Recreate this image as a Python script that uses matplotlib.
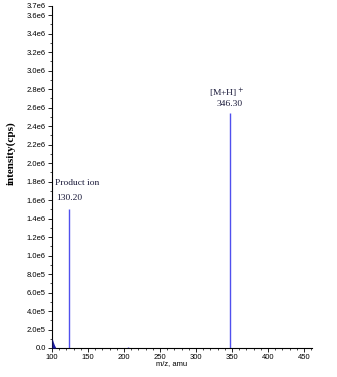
import matplotlib
matplotlib.use("Agg")
import matplotlib.pyplot as plt
from matplotlib.ticker import MultipleLocator, FuncFormatter

# Data
peak_mz = [124, 205, 347]
peak_int = [1.50e6, 0.012e6, 2.54e6]
blob_mz = [100, 100.8, 102, 103.5, 105.5]
blob_int = [0.10e6, 0.09e6, 0.06e6, 0.03e6, 0.0]
ann_mz = [124, 347]
ann_top = ["Product ion", "[M+H]$^+$"]
ann_bottom = ["130.20", "346.30"]
ann_top_y = [1.78e6, 2.75e6]
ann_bot_y = [1.62e6, 2.64e6]

fig = plt.figure(figsize=(3.37, 3.77), dpi=100)
ax = fig.add_axes([52/337, 1-348/377, 260/337, 342/377])

ax.vlines(peak_mz, 0, peak_int, color="#5050ee", lw=1.0)
ax.fill_between(blob_mz, 0, blob_int, color="#1a1aa0", lw=0, zorder=5, clip_on=False)

ax.set_xlim(100, 461)
ax.set_ylim(0, 3.7e6)
ax.xaxis.set_major_locator(MultipleLocator(50))
ax.xaxis.set_minor_locator(MultipleLocator(10))
ax.set_yticks([i*0.2e6 for i in range(19)] + [3.7e6])
ax.yaxis.set_minor_locator(MultipleLocator(0.1e6))

def yfmt(v, p):
    if abs(v) < 1:
        return "0.0"
    e = 5 if v < 1e6 else 6
    return f"{v/10**e:.1f}e{e}"
ax.yaxis.set_major_formatter(FuncFormatter(yfmt))

for s in ["top", "right"]:
    ax.spines[s].set_visible(False)
for s in ["left", "bottom"]:
    ax.spines[s].set_linewidth(0.8)

ax.tick_params(axis="both", which="major", length=3, width=0.6, labelsize=5.5, pad=1.5)
ax.tick_params(axis="both", which="minor", length=1.5, width=0.5)
for lab in ax.get_xticklabels() + ax.get_yticklabels():
    lab.set_family("Liberation Sans")

ax.text(ann_mz[0] - 20, ann_top_y[0], ann_top[0], fontsize=6.8,
        family="Liberation Serif", ha="left", va="center", color="#1a1a3a")
ax.text(ann_mz[1] - 5, ann_top_y[1], ann_top[1], fontsize=6.8,
        family="Liberation Serif", ha="center", va="center", color="#1a1a3a")
for x, b, by in zip(ann_mz, ann_bottom, ann_bot_y):
    ax.text(x, by, b, fontsize=6.8, family="Liberation Serif", ha="center",
            va="center", color="#1a1a3a")

ax.set_ylabel("intensity(cps)", fontsize=8, fontweight="bold", family="Liberation Serif")
ax.yaxis.set_label_coords(-0.14, 0.57)
ax.set_xlabel("m/z, amu", fontsize=5.5, family="Liberation Sans")
ax.xaxis.set_label_coords(0.46, -0.035)

fig.savefig("out.png", dpi=100)
